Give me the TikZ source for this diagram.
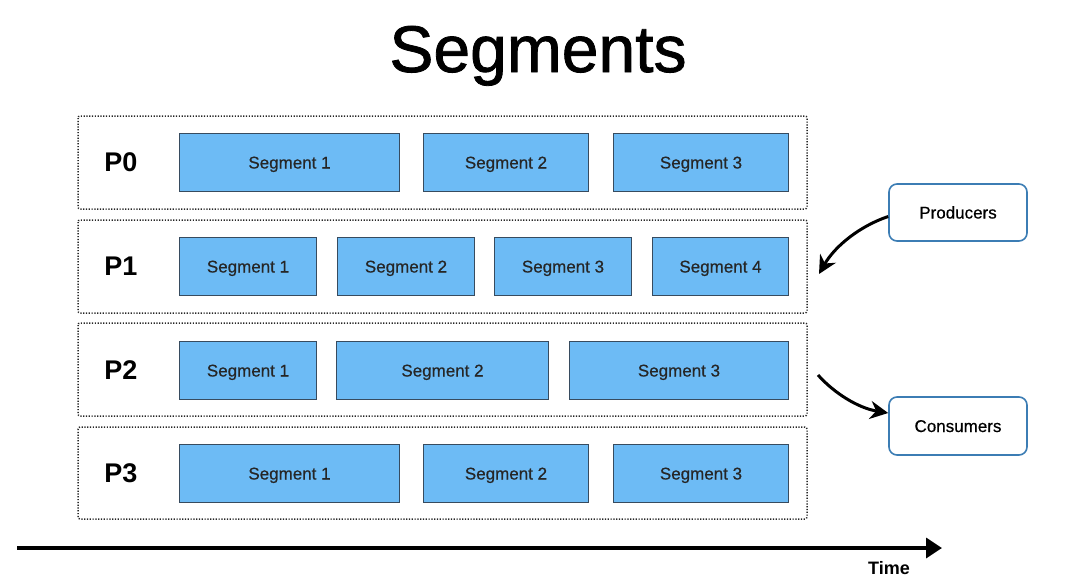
\documentclass[tikz,border=0pt]{standalone}
\usepackage{fontspec}
\setmainfont{Liberation Sans}
\newfontfamily\titlefont{Liberation Sans}[FakeBold=1.2]
\newfontfamily\segfont{Liberation Sans}[FakeBold=0.5]
\usetikzlibrary{arrows.meta,positioning}
\definecolor{segfill}{RGB}{109,187,245}
\definecolor{segdraw}{RGB}{55,75,95}
\definecolor{roledraw}{RGB}{60,125,180}
\tikzset{
  part/.style={draw=black!85, line width=1.5pt, dash pattern=on 1.2pt off 1.6pt, rounded corners=2pt},
  seg/.style={draw=segdraw, fill=segfill, line width=1pt, font=\segfont\fontsize{17}{20}\selectfont, text=black!85, text height=12pt, text depth=0pt},
  plabel/.style={font=\bfseries\fontsize{27}{30}\selectfont},
  role/.style={draw=roledraw, line width=1.6pt, rounded corners=8pt, fill=white, font=\segfont\fontsize{17}{20}\selectfont, text height=12pt, text depth=0pt},
  flow/.style={line width=3pt, -{Stealth[length=18pt,width=18pt]}}
}
\newcommand{\segbox}[6]{\node[seg, minimum width=#4-#3, minimum height=#6-#5, anchor=north west] (#1) at (#3,#5) {#2};}
\begin{document}
\begin{tikzpicture}[x=1pt,y=-1pt]
\useasboundingbox (0,0) rectangle (1080,581);
\node[font=\titlefont\fontsize{66}{70}\selectfont, anchor=base] (title) at (538,72) {Segments};
% partitions
\draw[part] (78,116) rectangle (807,209);
\draw[part] (78,220) rectangle (807,313);
\draw[part] (78,323) rectangle (807,416);
\draw[part] (78,427) rectangle (807,519);
\node[plabel] (p0) at (121,162) {P0};
\node[plabel] (p1) at (121,266) {P1};
\node[plabel] (p2) at (121,370) {P2};
\node[plabel] (p3) at (121,473) {P3};
% P0
\segbox{a1}{Segment 1}{179}{399}{133}{191}
\segbox{a2}{Segment 2}{423}{588}{133}{191}
\segbox{a3}{Segment 3}{613}{788}{133}{191}
% P1
\segbox{b1}{Segment 1}{179}{316}{237}{295}
\segbox{b2}{Segment 2}{337}{474}{237}{295}
\segbox{b3}{Segment 3}{494}{631}{237}{295}
\segbox{b4}{Segment 4}{652}{788}{237}{295}
% P2
\segbox{c1}{Segment 1}{179}{316}{341}{399}
\segbox{c2}{Segment 2}{336}{548}{341}{399}
\segbox{c3}{Segment 3}{569}{788}{341}{399}
% P3
\segbox{d1}{Segment 1}{179}{399}{444}{502}
\segbox{d2}{Segment 2}{423}{588}{444}{502}
\segbox{d3}{Segment 3}{613}{788}{444}{502}
% roles
\node[role, minimum width=138pt, minimum height=57pt] (prod) at (958,212.5) {Producers};
\node[role, minimum width=138pt, minimum height=58pt] (cons) at (958,426) {Consumers};
\coordinate (pout) at ([yshift=-4pt]prod.west);
\coordinate (pin) at (819,274);
\coordinate (cout) at (818,375);
\coordinate (cin) at ([yshift=13pt]cons.west);
\draw[flow] (pout) .. controls (860,226) and (835,246) .. (pin);
\draw[flow] (cout) .. controls (834,393) and (858,408) .. (cin);
% time axis
\coordinate (t0) at (17,548);
\coordinate (t1) at (942,548);
\draw[line width=3.5pt, -{Triangle[length=16pt,width=20pt]}] (t0) -- (t1);
\node[font=\bfseries\fontsize{18}{20}\selectfont] (time) at (889,568) {Time};
\end{tikzpicture}
\end{document}
